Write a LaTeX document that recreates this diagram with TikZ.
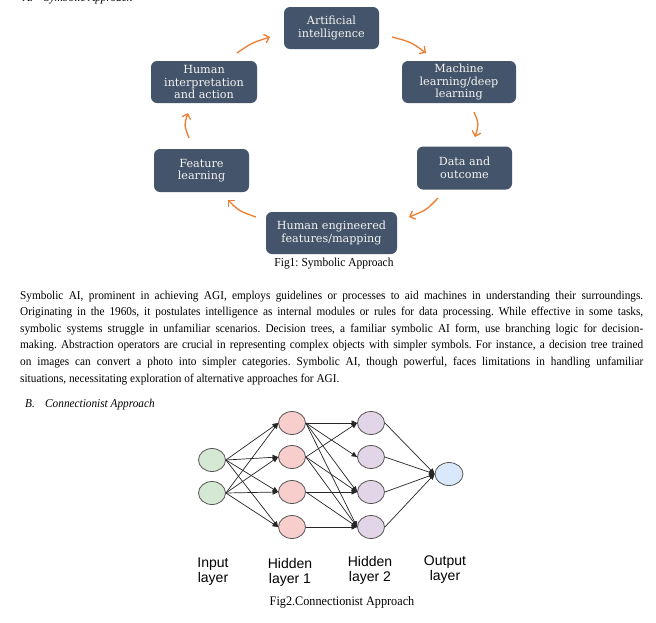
\documentclass[tikz,border=0pt]{standalone}
\usepackage{fontspec}
\usetikzlibrary{arrows.meta,shapes.geometric}
\setmainfont{Liberation Serif}
\newfontfamily\ptextfont[FakeStretch=0.94]{Liberation Serif}
\newfontfamily\boxfontfam{DejaVu Serif}
\newfontfamily\labfont{Liberation Sans}
\definecolor{boxc}{HTML}{44546A}
\definecolor{boxt}{HTML}{F4F4F4}
\definecolor{arrc}{HTML}{ED7D31}
\definecolor{ingreen}{HTML}{D5E8D4}
\definecolor{hpink}{HTML}{F8CECC}
\definecolor{hpurple}{HTML}{E1D5E7}
\definecolor{oblue}{HTML}{DAE8FC}
\definecolor{nstroke}{HTML}{555555}
\frenchspacing
\begin{document}
\begin{tikzpicture}[x=1pt,y=-1pt,
  sbox/.style={fill=boxc, rounded corners=6pt, text=boxt, align=center, inner sep=0pt,
    font=\boxfontfam\fontsize{11.2}{12.5}\selectfont},
  cyc/.style={draw=arrc, line width=1.3pt, -{Straight Barb[length=4.5pt,width=9pt]}},
  neuron/.style={ellipse, draw=nstroke, line width=0.8pt, minimum width=27pt, minimum height=23pt, inner sep=0pt},
  nn/.style={draw=black!85, line width=0.7pt, -{Triangle[length=5.5pt,width=5pt]}},
  lab/.style={font=\labfont\fontsize{14}{15}\selectfont, align=center, inner sep=0pt},
  ptext/.style={font=\ptextfont\fontsize{12}{16.6}\selectfont, inner sep=0pt}
]
\useasboundingbox (0,0) rectangle (656,622);
\fill[white] (0,0) rectangle (656,622);

% heading A (cut off at top, as in the reference)
\node[ptext, anchor=base west] (headA) at (23,1.5) {\itshape\makebox[21pt][l]{A.}Symbolic Approach};

% cycle boxes
\node[sbox, minimum width=95pt, minimum height=42pt] (ai) at (331.5,28) {Artificial\\intelligence};
\node[sbox, minimum width=114pt, minimum height=42pt] (ml) at (459,82) {Machine\\learning/deep\\learning};
\node[sbox, minimum width=106pt, minimum height=42pt] (hi) at (204,82) {Human\\interpretation\\and action};
\node[sbox, minimum width=95pt, minimum height=43pt] (fl) at (201.5,170.5) {Feature\\learning};
\node[sbox, minimum width=95pt, minimum height=43pt] (do) at (464.5,168) {Data and\\outcome};
\node[sbox, minimum width=131pt, minimum height=42pt] (he) at (331.5,233) {Human engineered\\features/mapping};

% arrow end points
\coordinate (a1s) at (237,53);  \coordinate (a1e) at (270,37);
\coordinate (a2s) at (392,37);  \coordinate (a2e) at (426,53);
\coordinate (a3s) at (474,112); \coordinate (a3e) at (475,137);
\coordinate (a4s) at (438,198); \coordinate (a4e) at (409,217);
\coordinate (a5s) at (256,217); \coordinate (a5e) at (228,200);
\coordinate (a6s) at (189,138); \coordinate (a6e) at (188,113);
\draw[cyc] (a1s) .. controls (251.5,43) .. (a1e);
\draw[cyc] (a2s) .. controls (411,42) .. (a2e);
\draw[cyc] (a3s) .. controls (479,124) .. (a3e);
\draw[cyc] (a4s) .. controls (426.5,210) .. (a4e);
\draw[cyc] (a5s) .. controls (239,211) .. (a5e);
\draw[cyc] (a6s) .. controls (184,125) .. (a6e);

\node[ptext, font=\ptextfont\fontsize{12.2}{14}\selectfont] (fig1) at (334,263.5) {Fig1: Symbolic Approach};

% paragraph
\node[ptext, anchor=base west] (para) at (20,299) {\vtop{\hsize=623pt \parindent=0pt
\makebox[623pt][s]{Symbolic AI, prominent in achieving AGI, employs guidelines or processes to aid machines in understanding their surroundings.}\\
\makebox[623pt][s]{Originating in the 1960s, it postulates intelligence as internal modules or rules for data processing. While effective in some tasks,}\\
\makebox[623pt][s]{symbolic systems struggle in unfamiliar scenarios. Decision trees, a familiar symbolic AI form, use branching logic for decision-}\\
\makebox[623pt][s]{making. Abstraction operators are crucial in representing complex objects with simpler symbols. For instance, a decision tree trained}\\
\makebox[623pt][s]{on images can convert a photo into simpler categories. Symbolic AI, though powerful, faces limitations in handling unfamiliar}\\
situations, necessitating exploration of alternative approaches for AGI.}};

% heading B
\node[ptext, anchor=base west] (headB) at (25,407) {\itshape\makebox[20pt][l]{B.}Connectionist Approach};

% network
\node[neuron, fill=ingreen] (i1) at (212,460) {};
\node[neuron, fill=ingreen] (i2) at (212,493) {};
\node[neuron, fill=hpink] (h1a) at (292,423) {};
\node[neuron, fill=hpink] (h1b) at (292,457) {};
\node[neuron, fill=hpink] (h1c) at (292,492) {};
\node[neuron, fill=hpink] (h1d) at (292,527) {};
\node[neuron, fill=hpurple] (h2a) at (371,423) {};
\node[neuron, fill=hpurple] (h2b) at (371,457) {};
\node[neuron, fill=hpurple] (h2c) at (371,492) {};
\node[neuron, fill=hpurple] (h2d) at (371,527) {};
\node[neuron, fill=oblue, minimum width=28pt] (out) at (449,474) {};

\foreach \s in {i1,i2}
  \foreach \t in {h1a,h1b,h1c,h1d}
    \draw[nn] (\s.east) -- (\t.west);
\foreach \t in {h2a,h2b,h2c,h2d} \draw[nn] (h1a.east) -- (\t.west);
\foreach \t in {h2a,h2c,h2d} \draw[nn] (h1b.east) -- (\t.west);
\foreach \t in {h2c,h2d} \draw[nn] (h1c.east) -- (\t.west);
\draw[nn] (h1d.east) -- (h2d.west);
\foreach \s in {h2a,h2b,h2c,h2d} \draw[nn] (\s.east) -- (out.west);

\node[lab] (linput) at (213,572) {Input\\layer};
\node[lab] (lh1) at (290,572) {Hidden\\layer 1};
\node[lab] (lh2) at (370,570) {Hidden\\layer 2};
\node[lab] (lout) at (445,570) {Output\\layer};

\node[ptext, font=\ptextfont\fontsize{13}{15}\selectfont] (fig2) at (342,602) {Fig2.Connectionist Approach};
\end{tikzpicture}
\end{document}
